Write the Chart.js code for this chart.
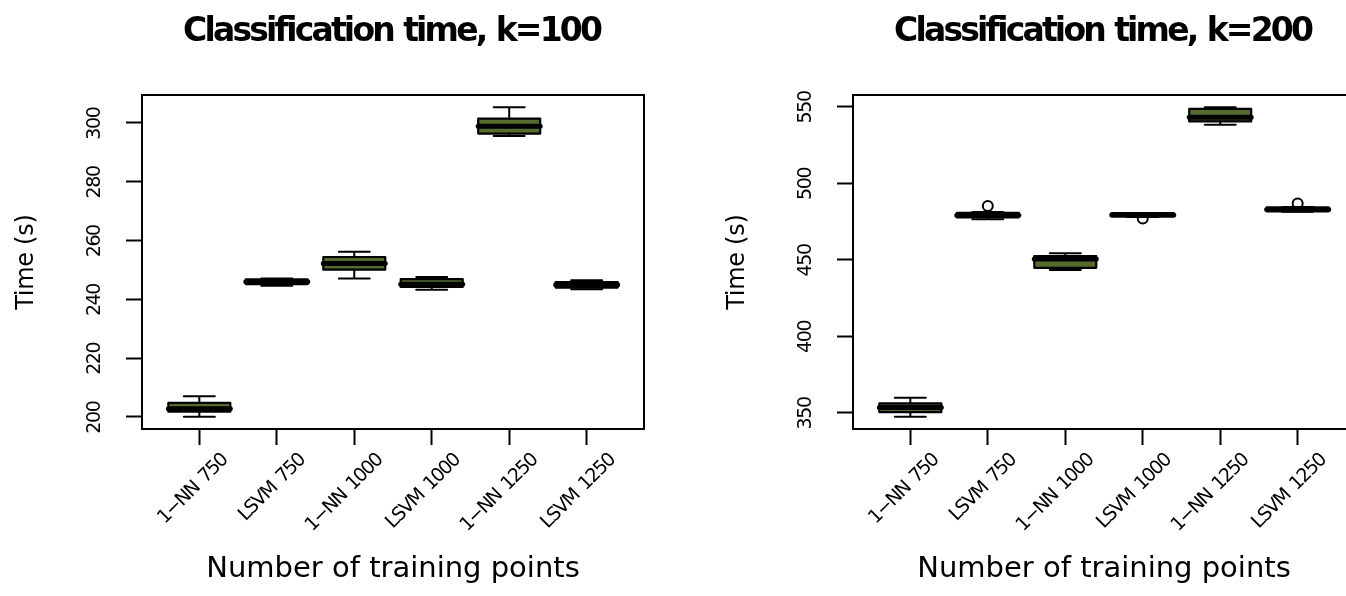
<!DOCTYPE html>
<html><head><meta charset="utf-8">
<script src="https://cdn.jsdelivr.net/npm/chart.js@4.4.0/dist/chart.umd.min.js"></script>
<style>
html,body{margin:0;padding:0;background:#fff;overflow:hidden;width:1346px;height:596px;}
#wrap{position:relative;width:1346px;height:596px;overflow:hidden;background:#fff;}
canvas{position:absolute;top:0;}
#c1{left:0;} #c2{left:711px;}
</style></head><body>
<div id="wrap"><canvas id="c1" width="711" height="596"></canvas><canvas id="c2" width="711" height="596"></canvas></div>
<script>
// ---- data ----
const categories = ['1\u2212NN 750', 'LSVM 750', '1\u2212NN 1000', 'LSVM 1000', '1\u2212NN 1250', 'LSVM 1250'];

const titleK100 = 'Classification time, k=100';
const titleK200 = 'Classification time, k=200';
const xAxisTitle = 'Number of training points';
const yAxisTitle = 'Time (s)';

// k = 100
const k100Low    = [200.1, 244.6, 247.1, 243.3, 295.6, 243.4];
const k100Q1     = [201.8, 245.2, 250.1, 244.2, 296.4, 244.0];
const k100Median = [202.8, 246.0, 252.2, 245.1, 298.9, 245.0];
const k100Q3     = [204.8, 246.8, 254.4, 246.9, 301.5, 245.9];
const k100High   = [207.0, 247.1, 256.2, 247.6, 305.3, 246.5];
const k100Out    = [[], [], [], [], [], []];
const k100Ticks  = [200, 220, 240, 260, 280, 300];

// k = 200
const k200Low    = [347.4, 476.5, 443.3, 478.0, 538.2, 481.4];
const k200Q1     = [350.3, 477.7, 444.7, 478.3, 540.4, 481.6];
const k200Median = [353.3, 479.0, 450.5, 479.3, 543.1, 482.9];
const k200Q3     = [356.1, 480.6, 452.3, 480.4, 548.6, 484.2];
const k200High   = [359.8, 481.2, 454.2, 480.6, 549.6, 484.4];
const k200Out    = [[], [485.1], [], [477.0], [], [486.8]];
const k200Ticks  = [350, 400, 450, 500, 550];

// ---- drawing ----
const FONT = '"DejaVu Sans", "Liberation Sans", sans-serif';

function drawText(ctx, text, x, y, rot, spacing, font, align, wordGap) {
  ctx.save();
  ctx.translate(x, y);
  if (rot) ctx.rotate(rot);
  ctx.font = font;
  ctx.letterSpacing = spacing + 'px';
  ctx.wordSpacing = (wordGap || 0) + 'px';
  ctx.textAlign = align;
  ctx.textBaseline = 'alphabetic';
  let dx = 0;
  if (align === 'center') dx = spacing / 2;
  else if (align === 'right') dx = spacing;
  ctx.fillText(text, dx, 0);
  ctx.restore();
}

const rBoxPlugin = {
  id: 'rbox',
  afterDatasetsDraw(chart, args, o) {
    const {ctx, chartArea: a, scales: {x, y}} = chart;
    const meta = chart.getDatasetMeta(0);
    ctx.save();
    ctx.strokeStyle = '#000';
    ctx.fillStyle = '#000';
    ctx.lineJoin = 'round';
    ctx.lineCap = 'round';
    meta.data.forEach((bar, i) => {
      const cx = bar.x, half = bar.width / 2, cap = bar.width / 4;
      const yHi = y.getPixelForValue(o.high[i]), yLo = y.getPixelForValue(o.low[i]);
      const yQ3 = y.getPixelForValue(o.q3[i]), yQ1 = y.getPixelForValue(o.q1[i]);
      const yMed = y.getPixelForValue(o.med[i]);
      ctx.lineWidth = 2;
      ctx.beginPath();
      ctx.moveTo(cx, yQ3); ctx.lineTo(cx, yHi);
      ctx.moveTo(cx, yQ1); ctx.lineTo(cx, yLo);
      ctx.moveTo(cx - cap, yHi); ctx.lineTo(cx + cap, yHi);
      ctx.moveTo(cx - cap, yLo); ctx.lineTo(cx + cap, yLo);
      ctx.stroke();
      ctx.lineWidth = 2.2;
      ctx.strokeRect(cx - half, yQ3, 2 * half, yQ1 - yQ3);
      ctx.lineWidth = 5;
      ctx.beginPath();
      ctx.moveTo(cx - half, yMed); ctx.lineTo(cx + half, yMed);
      ctx.stroke();
      ctx.lineWidth = 2;
      o.out[i].forEach(v => {
        ctx.beginPath();
        ctx.arc(cx, y.getPixelForValue(v), 5, 0, Math.PI * 2);
        ctx.stroke();
      });
    });
    // frame
    ctx.lineWidth = 2;
    ctx.lineCap = 'butt'; ctx.lineJoin = 'miter';
    ctx.strokeRect(a.left, a.top, a.right - a.left, a.bottom - a.top);

    const midX = (a.left + a.right) / 2, midY = (a.top + a.bottom) / 2;
    drawText(ctx, o.title, midX, 41, 0, -2.8, 'bold 33px ' + FONT, 'center', 1.5);
    drawText(ctx, xAxisTitle, midX, 577, 0, 0, '29px ' + FONT, 'center');
    drawText(ctx, yAxisTitle, a.left - 109, midY, -Math.PI / 2, -0.3, '24px ' + FONT, 'center');
    y.ticks.forEach(t => {
      drawText(ctx, String(t.value), a.left - 42, y.getPixelForValue(t.value), -Math.PI / 2,
               -1.4, '19px ' + FONT, 'center');
    });
    x.ticks.forEach((t, i) => {
      drawText(ctx, categories[i], x.getPixelForValue(t.value) + 30, a.bottom + 31, -Math.PI / 4,
               -1.5, '19px ' + FONT, 'right', 3);
    });
    ctx.restore();
  }
};

function makeChart(id, st, yTicks, title) {
  const all = [...st.low, ...st.high, ...st.out.flat()];
  const mn = Math.min(...all), mx = Math.max(...all), pad = (mx - mn) * 0.04;
  const n = categories.length, xpad = n * 0.04;
  const gridOpts = {display: true, drawOnChartArea: false, drawTicks: true, tickLength: 16,
                    tickColor: '#000', tickWidth: 2, color: '#000', offset: false};
  return new Chart(document.getElementById(id), {
    type: 'bar',
    data: {
      datasets: [{
        data: categories.map((c, i) => ({x: i + 1, y: [st.q1[i], st.q3[i]]})),
        backgroundColor: '#556B2F',
        borderWidth: 0,
        categoryPercentage: 1,
        barPercentage: 0.8
      }]
    },
    options: {
      responsive: false, animation: false, devicePixelRatio: 1,
      layout: {padding: {top: 95, right: 67, left: 0, bottom: 0}},
      plugins: {legend: {display: false}, tooltip: {enabled: false},
                rbox: Object.assign({title}, st)},
      scales: {
        x: {type: 'linear', min: 0.5 - xpad, max: n + 0.5 + xpad, offset: false,
            afterBuildTicks: s => { s.ticks = categories.map((c, i) => ({value: i + 1})); },
            afterFit: s => { s.height = 167; },
            ticks: {display: false}, grid: gridOpts, border: {display: false}},
        y: {type: 'linear', min: mn - pad, max: mx + pad,
            afterBuildTicks: s => { s.ticks = yTicks.map(v => ({value: v})); },
            afterFit: s => { s.width = 142; },
            ticks: {display: false}, grid: gridOpts, border: {display: false}}
      }
    },
    plugins: [rBoxPlugin]
  });
}

makeChart('c1', {low: k100Low, q1: k100Q1, med: k100Median, q3: k100Q3, high: k100High, out: k100Out},
          k100Ticks, titleK100);
makeChart('c2', {low: k200Low, q1: k200Q1, med: k200Median, q3: k200Q3, high: k200High, out: k200Out},
          k200Ticks, titleK200);
</script>
</body></html>
